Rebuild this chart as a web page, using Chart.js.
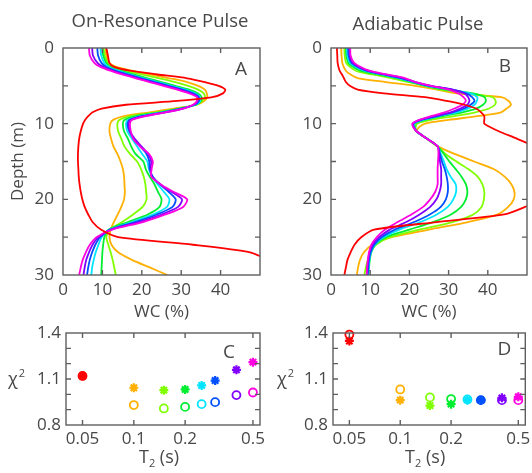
<!DOCTYPE html>
<html><head><meta charset="utf-8">
<script src="https://cdn.jsdelivr.net/npm/chart.js@4/dist/chart.umd.min.js"></script>
<style>
html,body{margin:0;padding:0;background:#fff;}
#wrap{position:relative;width:532px;height:473px;overflow:hidden;background:#fff;}
canvas{position:absolute;}
</style></head><body>
<div id="wrap">
<canvas id="cA" width="268" height="330" style="left:0;top:0"></canvas>
<canvas id="cB" width="264" height="330" style="left:268px;top:0"></canvas>
<canvas id="cC" width="268" height="173" style="left:0;top:300px"></canvas>
<canvas id="cD" width="264" height="173" style="left:268px;top:300px"></canvas>
</div>
<script>
// ---------- data ----------
const T2 = [0.05, 0.1, 0.15, 0.2, 0.25, 0.3, 0.4, 0.5];
const seriesColors = ['#ff0000','#ffb000','#80ff00','#00ee30','#00e5ff','#0050ff','#8000ff','#ff00e0'];

// Panel A: On-Resonance Pulse, WC (%) vs depth (m)
const depthA = [0,1,2,2.5,3,3.5,4,4.5,5,5.5,6,6.5,7,7.5,8,8.5,9,9.5,10,11,12,13,14,15,16,17,18,19,20,21,22,23,24,25,26,27,28,29,30];
const wcA_005 = [11,11.4,11.8,13,17,24,31.5,36,39.5,41.2,40.6,37.9,29,16,9.8,7.5,6.4,5.6,5.1,4.5,4.1,3.9,3.8,3.8,3.9,4.0,4.2,4.5,4.9,5.5,6.4,7.5,9.6,14,33,47.5,52,56,58];
const wcA_010 = [10.8,11,11.8,13.5,17.5,22,27,31.5,34.3,36,36.5,36.6,35.8,34,28,22,15.5,12.7,12,11.8,12.2,12.8,13.8,14.6,15.2,15.5,15.6,15.7,15.5,14.8,13.9,12.9,12.1,11.8,12.3,14,17.5,22,26.5];
const wcA_015 = [10.3,10.6,11.4,12.5,16,20,24.5,28.5,31.8,34.3,35.7,36,35.3,34,29,23.5,17,14.3,13.8,14,14.8,15.6,17,18.8,19.8,20.5,20.9,21.1,21.2,20.2,17.8,15,11.8,11,11.5,12.1,12.6,13,13.4];
const wcA_020 = [10,10.2,11,12,14.5,18,21.5,25,28.5,32,34.3,35.2,35,33.8,29.5,24.5,18.5,15.6,15.2,15.5,16.5,17.3,18.4,20.4,21,22,23.2,24.1,25,24.5,21.5,16.5,11.6,10.5,10.2,10,9.9,9.8,9.7];
const wcA_025 = [9.5,9.7,10.5,11.6,13.8,17,20.5,24,27.5,31,33.5,34.8,34.8,33.6,30,25,19.5,16.5,16,16.3,17.5,18.8,20.1,21.4,21.8,22.6,24,25.6,27,26.4,22.8,17.5,11.8,9.8,9,8.3,7.8,7.4,7.2];
const wcA_030 = [8.7,8.9,9.8,11,13.2,16.3,19.8,23.3,26.8,30.3,33,34.5,34.5,33.4,30,25.5,20,16.9,16.4,16.8,18,19.6,21.2,21.9,22,22.8,24.5,26.8,28.6,27.8,23.8,18.3,12,9.4,8.2,7.4,6.8,6.4,6.1];
const wcA_040 = [7.4,7.6,8.8,10.2,12.6,15.6,19,22.6,26,29.6,32.5,34.2,34.2,33.2,30.5,26,20.5,17.2,16.7,17,18.2,19.9,21.6,22.4,22.2,22.6,24.7,27.5,30.2,29.2,25,19.2,12.2,9,7.5,6.6,5.9,5.5,5.2];
const wcA_050 = [6.6,6.8,8,9.5,12,15,18.5,22,25.5,29,32,34,34,33,30.5,26,21,17.5,17,17.2,17.8,19.5,21.8,22.8,22.5,22.4,24.7,28,31.5,30.5,26,20.3,12.5,8.5,6.8,5.8,5,4.5,4.1];

// Panel B: Adiabatic Pulse
const depthB = [0,1,2,3,3.5,4,4.5,5,5.5,6,6.5,7,7.5,8,8.5,9,9.5,10,10.5,11,12,13,14,15,16,17,18,19,20,21,22,23,24,25,26,27,28,29,30];
const wcB_005 = [1.5,1.6,1.7,2.2,2.8,3.3,3.8,4.8,6.8,13.5,24,29.5,34,37,38.3,39.1,39.1,39.1,40.8,42.8,47.5,52,56,58,59,59,59,58,54,49.5,44.2,27,11,7.7,6,5,4.2,3.8,3.4];
const wcB_010 = [2.6,2.7,2.9,3.8,5,7,14,21.5,27,32,43.5,45.3,45.9,44.8,43.4,37.4,30,24,22.4,21.9,24.5,27.2,31.5,36.5,41.5,44.3,46,46.8,46.6,45.2,42.5,35,25,15.5,10.5,8.4,7.4,6.9,6.6];
const wcB_015 = [3.4,3.5,3.9,6.3,10.5,15.5,19.8,24,28,35,41.2,42,41.8,40.3,36.8,31.5,25.5,22,21.6,21.8,24.5,27.2,29.2,32,35,37.4,38.6,39.1,39,38.4,36.3,31,22.5,15,11.5,10.1,9.4,8.9,8.5];
const wcB_020 = [3.8,3.9,4.5,7.5,12,17,20.5,24,29,36.2,39.2,39.5,38.8,37,33.5,28.5,24,21.4,21.4,21.8,24.5,27.2,28.8,30.2,31.8,33.3,34.4,34.8,34.4,33.2,30.6,26,20,14,11.3,10.3,9.9,9.7,9.5];
const wcB_025 = [4.1,4.2,4.9,8.5,13,17.5,21,24.5,30.5,35.5,37.3,37.2,36.6,35,32,27.5,23.5,21.2,21.3,21.8,24.5,27.2,28,28.8,29.5,30.5,31.8,31.9,31.2,29.8,27,22.8,17.5,13.4,11.2,10.2,9.8,9.6,9.5];
const wcB_030 = [4.4,4.5,5.3,9,13.5,18,21.3,25,31,34.5,36,36.6,35.6,34,31,27,23,21,21.2,21.8,24.5,27.2,27.8,28.3,29,29.5,29.8,29.8,29.3,28,25.2,21.2,16.3,12.9,11,10.1,9.7,9.5,9.4];
const wcB_040 = [4.7,4.8,5.6,9.3,13.8,18.5,21.6,25.5,31,34,35,35.3,34.8,33,30.5,26.5,22.7,20.8,21.1,21.8,24.5,27.2,27.6,27.8,28.1,28.1,28.1,27.7,26.9,25.3,22.6,19.2,15,12.3,10.6,9.8,9.5,9.3,9.2];
const wcB_050 = [4.9,5,6,9.8,14.2,19,21.5,25.5,30,32.5,33.8,34.4,33.5,31.5,29,25.5,22.5,20.8,21,21.8,24.5,27.2,27.4,27.3,27.2,27.2,27.2,26.6,25.3,23.5,20.5,17,13.8,11.7,10.3,9.7,9.4,9.2,9.1];

// Panels C, D: chi-square vs T2
const chiC_star   = [1.12, 1.043, 1.027, 1.032, 1.058, 1.09, 1.16, 1.21];
const chiC_circle = [1.12, 0.93, 0.908, 0.918, 0.936, 0.949, 0.995, 1.012];
const chiD_star   = [1.348, 0.962, 0.927, 0.936, 0.962, 0.962, 0.977, 0.984];
const chiD_circle = [1.39, 1.032, 0.98, 0.969, 0.967, 0.962, 0.962, 0.962];

const wcTicks = [0, 10, 20, 30, 40];
const depthTicks = [0, 10, 20, 30];
const t2Ticks = [0.05, 0.1, 0.2, 0.5];
const chiTicks = [0.8, 1.1, 1.4];

// ---------- styling ----------
const FONT = "'Open Sans', 'DejaVu Sans', sans-serif";
const TXT = '#484848';
const AXC = '#5e5e5e';
Chart.defaults.font.family = FONT;
Chart.defaults.color = TXT;

const framePlugin = {
  id: 'frame',
  afterDatasetsDraw(chart, args, o) {
    const ctx = chart.ctx;
    const {left, right, top, bottom} = chart.chartArea;
    const xs = chart.scales.x, ys = chart.scales.y;
    ctx.save();
    ctx.strokeStyle = AXC;
    ctx.lineWidth = 1.4;
    ctx.strokeRect(left, top, right - left, bottom - top);
    const L = 5;
    ctx.beginPath();
    xs.ticks.forEach(t => {
      const p = xs.getPixelForValue(t.value);
      if (p <= left + 1 || p >= right - 1) return;
      ctx.moveTo(p, bottom); ctx.lineTo(p, bottom - L);
      ctx.moveTo(p, top); ctx.lineTo(p, top + L);
    });
    ys.ticks.forEach(t => {
      const p = ys.getPixelForValue(t.value);
      if (p <= top + 1 || p >= bottom - 1) return;
      ctx.moveTo(left, p); ctx.lineTo(left + L, p);
      ctx.moveTo(right, p); ctx.lineTo(right - L, p);
    });
    ctx.stroke();
    // panel letter
    ctx.fillStyle = TXT;
    ctx.font = '19px ' + FONT;
    ctx.textAlign = 'center';
    ctx.textBaseline = 'middle';
    ctx.fillText(o.letter, right - o.lx, top + o.ly);
    // panel title
    if (o.title) {
      ctx.font = '18.5px ' + FONT;
      ctx.fillText(o.title, o.tx, o.ty);
    }
    // chi^2 label
    if (o.chi) {
      ctx.font = '18px ' + FONT;
      ctx.textAlign = 'left';
      const cy = ys.getPixelForValue(1.1) + 1;
      ctx.fillText('\u03C7', o.chiX, cy);
      const w = ctx.measureText('\u03C7').width;
      ctx.font = '11px ' + FONT;
      ctx.fillText('2', o.chiX + w + 1, cy - 6);
    }
    // T2 (s) label
    if (o.t2) {
      const cx = (left + right) / 2 - 4;
      const cy = o.t2y;
      ctx.font = '18px ' + FONT;
      ctx.textAlign = 'left';
      const wT = ctx.measureText('T').width;
      ctx.font = '11px ' + FONT;
      const w2 = ctx.measureText('2').width;
      ctx.font = '18px ' + FONT;
      const wS = ctx.measureText(' (s)').width;
      let x0 = cx - (wT + w2 + wS) / 2;
      ctx.fillText('T', x0, cy);
      ctx.font = '11px ' + FONT;
      ctx.fillText('2', x0 + wT, cy + 6);
      ctx.font = '18px ' + FONT;
      ctx.fillText(' (s)', x0 + wT + w2, cy);
    }
    ctx.restore();
  }
};

function profileDatasets(depth, profiles) {
  return profiles.map((wc, i) => ({
    data: wc.map((v, k) => ({x: v, y: depth[k]})),
    borderColor: seriesColors[i],
    backgroundColor: seriesColors[i],
    borderWidth: 1.8,
    pointRadius: 0,
    showLine: true,
    tension: 0.25,
    fill: false,
    order: i === 0 ? 0 : 9 - i
  }));
}

function inList(list, v) { return list.some(t => Math.abs(t - v) < 1e-6); }

function profileChart(id, depth, profiles, opts) {
  return new Chart(document.getElementById(id), {
    type: 'scatter',
    data: {datasets: profileDatasets(depth, profiles)},
    options: {
      responsive: false, animation: false, devicePixelRatio: 1,
      layout: {padding: {left: 0, right: opts.padRight, top: 48, bottom: 0}},
      plugins: {legend: {display: false}, tooltip: {enabled: false},
        frame: {letter: opts.letter, lx: opts.lx, ly: opts.ly, title: opts.title, tx: opts.tx, ty: opts.ty}},
      scales: {
        x: {
          type: 'linear', min: 0, max: 50,
          ticks: {stepSize: 10, autoSkip: false, maxRotation: 0, padding: 5, color: TXT,
            font: {size: 17, family: FONT},
            callback: v => inList(wcTicks, v) ? String(v) : ''},
          grid: {display: false, drawTicks: false}, border: {display: false},
          title: {display: true, text: 'WC (%)', color: TXT, font: {size: 17, family: FONT}, padding: {top: 0, bottom: 8}},
          afterFit(s) { s.height = 55; s.paddingLeft = 0; s.paddingRight = 0; }
        },
        y: {
          type: 'linear', min: 0, max: 30, reverse: true,
          ticks: {stepSize: 5, autoSkip: false, padding: 9, color: TXT,
            font: {size: 17, family: FONT},
            callback: v => inList(depthTicks, v) ? String(v) : ''},
          grid: {display: false, drawTicks: false}, border: {display: false},
          title: {display: opts.yTitle, text: 'Depth (m)', color: TXT, font: {size: 17, family: FONT}, padding: {top: 8, bottom: 0}},
          afterFit(s) { s.width = 63; s.paddingTop = 0; s.paddingBottom = 0; }
        }
      }
    },
    plugins: [framePlugin]
  });
}

function chiChart(id, stars, circles, opts) {
  const pts = arr => arr.map((v, i) => ({x: T2[i], y: v}));
  return new Chart(document.getElementById(id), {
    type: 'scatter',
    data: {datasets: [
      {data: pts(stars), pointStyle: 'star', pointRadius: 4.5, borderWidth: 2.2, clip: false,
        pointBorderColor: seriesColors, pointBackgroundColor: seriesColors, borderColor: seriesColors},
      {data: pts(circles), pointStyle: 'circle', pointRadius: 4, borderWidth: 1.8, clip: false,
        pointBorderColor: seriesColors, pointBackgroundColor: 'rgba(0,0,0,0)', borderColor: seriesColors}
    ]},
    options: {
      responsive: false, animation: false, devicePixelRatio: 1,
      layout: {padding: {left: 0, right: opts.padRight, top: 33, bottom: 0}},
      plugins: {legend: {display: false}, tooltip: {enabled: false},
        frame: {letter: opts.letter, lx: opts.lx, ly: opts.ly, chi: true, chiX: opts.chiX, t2: true, t2y: 158}},
      scales: {
        x: {
          type: 'logarithmic', min: 0.04, max: 0.55,
          afterBuildTicks(s) { s.ticks = t2Ticks.map(v => ({value: v})); },
          ticks: {autoSkip: false, maxRotation: 0, padding: 4, color: TXT,
            font: {size: 17, family: FONT}, callback: v => String(v)},
          grid: {display: false, drawTicks: false}, border: {display: false},
          afterFit(s) { s.height = 48; s.paddingLeft = 0; s.paddingRight = 0; }
        },
        y: {
          type: 'linear', min: 0.8, max: 1.4,
          ticks: {stepSize: 0.1, autoSkip: false, padding: 5, color: TXT,
            font: {size: 17, family: FONT},
            callback: v => inList(chiTicks, v) ? v.toFixed(1) : ''},
          grid: {display: false, drawTicks: false}, border: {display: false},
          afterFit(s) { s.width = opts.yWidth; s.paddingTop = 0; s.paddingBottom = 0; }
        }
      }
    },
    plugins: [framePlugin]
  });
}

profileChart('cA', depthA, [wcA_005, wcA_010, wcA_015, wcA_020, wcA_025, wcA_030, wcA_040, wcA_050],
  {padRight: 8, letter: 'A', lx: 19, ly: 22, title: 'On-Resonance Pulse', tx: 160, ty: 22, yTitle: true});
profileChart('cB', depthB, [wcB_005, wcB_010, wcB_015, wcB_020, wcB_025, wcB_030, wcB_040, wcB_050],
  {padRight: 5, letter: 'B', lx: 22, ly: 19, title: 'Adiabatic Pulse', tx: 150, ty: 25, yTitle: false});
chiChart('cC', chiC_star, chiC_circle, {padRight: 8, yWidth: 66, letter: 'C', lx: 31, ly: 20, chiX: 8});
chiChart('cD', chiD_star, chiD_circle, {padRight: 2, yWidth: 65, letter: 'D', lx: 21, ly: 17, chiX: 9});
</script>
</body></html>
